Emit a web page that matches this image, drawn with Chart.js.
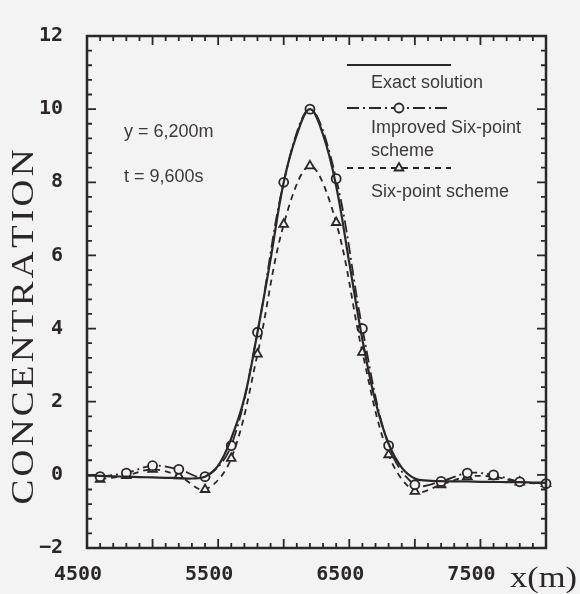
<!DOCTYPE html>
<html>
<head>
<meta charset="utf-8">
<script src="https://cdn.jsdelivr.net/npm/chart.js@4/dist/chart.umd.min.js"></script>
<style>
  html, body { margin: 0; padding: 0; background: #f3f3f3; }
  #wrap { width: 580px; height: 594px; }
</style>
</head>
<body>
<div id="wrap"><canvas id="chart" width="580" height="594"></canvas></div>
<script>
// concentration profile along x, y = 6,200 m, t = 9,600 s

const exactX = [4500, 4600, 4700, 4800, 4900, 5000, 5100, 5200, 5300, 5400,
                5500, 5600, 5700, 5800, 5900, 6000, 6100, 6200, 6300, 6400,
                6500, 6600, 6700, 6800, 6900, 7000, 7100, 7200, 7300, 7400,
                7500, 7600, 7700, 7800, 7900, 8000];
const exactY = [-0.02, -0.03, -0.04, -0.05, -0.06, -0.07, -0.08, -0.09, -0.1, -0.05,
                0.25, 1.0, 2.1, 3.9, 5.9, 8.0, 9.3, 10.0, 9.3, 7.9,
                5.8, 3.7, 2.0, 0.85, 0.2, -0.1, -0.16, -0.17, -0.18, -0.18,
                -0.19, -0.19, -0.2, -0.2, -0.21, -0.22];

const schemeX   = [4600, 4800, 5000, 5200, 5400, 5600, 5800, 6000, 6200,
                   6400, 6600, 6800, 7000, 7200, 7400, 7600, 7800, 8000];
const improvedY = [-0.05, 0.05, 0.25, 0.15, -0.05, 0.8, 3.9, 8.0, 10.0,
                   8.1, 4.0, 0.8, -0.27, -0.18, 0.05, 0.0, -0.19, -0.24];
const sixPointY = [-0.12, -0.02, 0.15, -0.03, -0.4, 0.45, 3.3, 6.85, 8.45,
                   6.9, 3.35, 0.55, -0.45, -0.27, -0.05, -0.05, -0.2, -0.24];

const xTickLabels = [4500, 5500, 6500, 7500];
const yTickLabels = [-2, 0, 2, 4, 6, 8, 10, 12];

const INK = '#2b2729';
const TEXT = '#3d383b';
const BG = '#f3f3f3';

const toPoints = (xs, ys) => xs.map((x, i) => ({ x, y: ys[i] }));

// draw text letter by letter so it can be spread out like the scan
function spacedText(ctx, text, x, y, spacing) {
  let w = 0;
  for (const ch of text) w += ctx.measureText(ch).width;
  w += spacing * (text.length - 1);
  let cx = x - w / 2;
  for (const ch of text) {
    ctx.fillText(ch, cx, y);
    cx += ctx.measureText(ch).width + spacing;
  }
}

const framePlugin = {
  id: 'frame',
  beforeDraw(chart) {
    const { ctx, width, height } = chart;
    ctx.save();
    ctx.fillStyle = BG;
    ctx.fillRect(0, 0, width, height);
    ctx.restore();
  },
  afterDatasetsDraw(chart) {
    const { ctx, chartArea: a, scales: { x, y } } = chart;
    ctx.save();
    ctx.strokeStyle = INK;
    ctx.lineWidth = 2.5;
    ctx.strokeRect(a.left, a.top, a.right - a.left, a.bottom - a.top);

    // inward ticks on all four sides
    ctx.lineWidth = 1.8;
    ctx.beginPath();
    for (let v = x.min; v <= x.max + 1e-6; v += 100) {
      const len = v % 500 === 0 ? 9 : 5;
      const px = x.getPixelForValue(v);
      ctx.moveTo(px, a.bottom); ctx.lineTo(px, a.bottom - len);
      ctx.moveTo(px, a.top);    ctx.lineTo(px, a.top + len);
    }
    for (let i = 0; y.min + i * 0.4 <= y.max + 1e-6; i++) {
      const v = y.min + i * 0.4;
      const major = Math.abs(v / 2 - Math.round(v / 2)) < 1e-6;
      const len = major ? 9 : 5;
      const py = y.getPixelForValue(v);
      ctx.moveTo(a.left, py);  ctx.lineTo(a.left + len, py);
      ctx.moveTo(a.right, py); ctx.lineTo(a.right - len, py);
    }
    ctx.stroke();
    ctx.restore();
  },
  afterDraw(chart) {
    const { ctx } = chart;
    const ds = chart.data.datasets;
    ctx.save();

    // y axis title, serif and stretched
    ctx.fillStyle = INK;
    ctx.font = '31px "Liberation Serif"';
    ctx.textBaseline = 'middle';
    ctx.save();
    ctx.translate(25, 327);
    ctx.rotate(-Math.PI / 2);
    ctx.scale(1.2, 1);
    spacedText(ctx, 'CONCENTRATION', 0, 0, 2.7);
    ctx.restore();

    // x axis unit, right of the last tick label
    ctx.save();
    ctx.font = '30px "Liberation Serif"';
    ctx.textBaseline = 'alphabetic';
    ctx.translate(510, 587);
    ctx.scale(1.15, 1);
    ctx.fillText('x(m)', 0, 0);
    ctx.restore();

    // conditions
    ctx.fillStyle = TEXT;
    ctx.font = '18px "Liberation Sans"';
    ctx.textBaseline = 'alphabetic';
    ctx.fillText('y = 6,200m', 124, 137);
    ctx.fillText('t = 9,600s', 124, 182);

    // legend
    const lx0 = 347, lx1 = 451, mid = 399, tx = 371;
    const rows = [
      { d: ds[0], ly: 65 },
      { d: ds[1], ly: 108 },
      { d: ds[2], ly: 168 }
    ];
    rows.forEach(r => {
      ctx.save();
      ctx.strokeStyle = INK;
      ctx.lineWidth = r.d.borderWidth;
      ctx.setLineDash(r.d.borderDash || []);
      ctx.beginPath();
      ctx.moveTo(lx0, r.ly);
      ctx.lineTo(lx1, r.ly);
      ctx.stroke();
      ctx.setLineDash([]);
      if (r.d.pointRadius > 0) {
        ctx.fillStyle = BG;
        ctx.strokeStyle = INK;
        ctx.lineWidth = r.d.pointBorderWidth;
        Chart.helpers.drawPoint(ctx, {
          pointStyle: r.d.pointStyle, radius: r.d.pointRadius,
          borderWidth: r.d.pointBorderWidth, rotation: 0
        }, mid, r.ly);
      }
      ctx.restore();
    });
    ctx.fillStyle = TEXT;
    ctx.fillText('Exact solution', tx, 88);
    ctx.fillText('Improved Six-point', tx, 133);
    ctx.fillText('scheme', tx, 156);
    ctx.fillText('Six-point scheme', tx, 197);
    ctx.restore();
  }
};

const tickFont = { family: '"DejaVu Sans Mono"', size: 20, weight: 'bold' };

new Chart(document.getElementById('chart'), {
  type: 'line',
  data: {
    datasets: [
      {
        label: 'Exact solution',
        data: toPoints(exactX, exactY),
        borderColor: INK,
        borderWidth: 2.2,
        pointRadius: 0,
        tension: 0.4,
        clip: false
      },
      {
        label: 'Improved Six-point scheme',
        data: toPoints(schemeX, improvedY),
        borderColor: INK,
        borderWidth: 1.8,
        borderDash: [12, 4, 2, 4],
        pointStyle: 'circle',
        pointRadius: 4.5,
        pointBorderWidth: 1.8,
        pointBorderColor: INK,
        pointBackgroundColor: BG,
        tension: 0.35,
        clip: false
      },
      {
        label: 'Six-point scheme',
        data: toPoints(schemeX, sixPointY),
        borderColor: INK,
        borderWidth: 1.8,
        borderDash: [6, 5],
        pointStyle: 'triangle',
        pointRadius: 5,
        pointBorderWidth: 1.8,
        pointBorderColor: INK,
        pointBackgroundColor: BG,
        tension: 0.35,
        clip: false
      }
    ]
  },
  options: {
    responsive: false,
    animation: false,
    devicePixelRatio: 1,
    layout: { padding: { top: 23, right: 34, left: 0, bottom: 0 } },
    plugins: {
      legend: { display: false },
      tooltip: { enabled: false }
    },
    scales: {
      x: {
        type: 'linear',
        min: 4500,
        max: 8000,
        grid: { display: false, drawTicks: false },
        border: { display: false },
        ticks: {
          stepSize: 500,
          autoSkip: false,
          maxRotation: 0,
          padding: 15,
          labelOffset: -9,
          color: INK,
          font: tickFont,
          callback: v => xTickLabels.includes(v) ? String(v) : ''
        },
        afterFit: s => { s.height = 46; }
      },
      y: {
        min: -2,
        max: 12,
        grid: { display: false, drawTicks: false },
        border: { display: false },
        ticks: {
          stepSize: 2,
          padding: 24,
          color: INK,
          font: tickFont,
          callback: v => yTickLabels.includes(v) ? (v < 0 ? '\u2212' + (-v) : String(v)) : ''
        },
        afterFit: s => { s.width = 87; }
      }
    }
  },
  plugins: [framePlugin]
});
</script>
</body>
</html>
